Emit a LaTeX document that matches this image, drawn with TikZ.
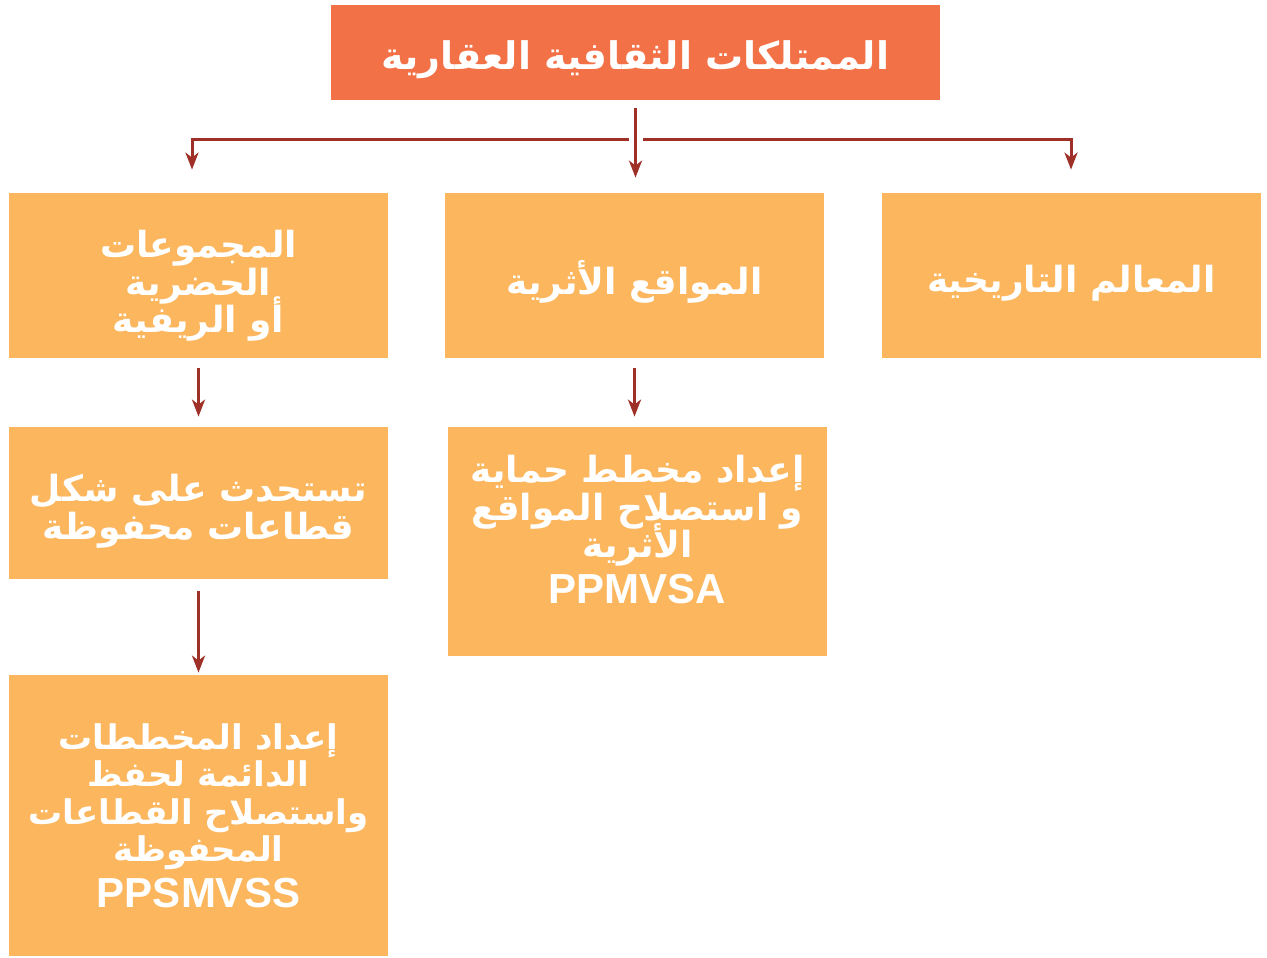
\documentclass[tikz,border=0pt]{standalone}
\usepackage{fontspec}
\newfontfamily\arabicfont[Script=Arabic]{DejaVu Sans}
\newfontfamily\latinfont{Liberation Sans}
\TeXXeTstate=1
\lineskiplimit=-100pt
\usetikzlibrary{arrows.meta}
\definecolor{topcol}{RGB}{243,113,70}
\definecolor{boxcol}{RGB}{251,182,94}
\definecolor{linkcol}{RGB}{158,48,40}
\newcommand{\rl}[1]{\beginR #1\endR}
\newcommand{\lift}[1]{\rule{0pt}{#1}}
\newcommand{\code}[1]{{\latinfont\bfseries\fontsize{21}{24}\selectfont #1}}

\begin{document}
\begin{tikzpicture}[x=0.5pt,y=-0.5pt,
  box/.style={fill=boxcol, text=white, align=center, inner sep=0pt, minimum width=189.5pt,
    font=\arabicfont\bfseries\fontsize{18}{18.75}\selectfont},
  link/.style={draw=linkcol, line width=1.5pt, -{Stealth[length=8.5pt,width=6.5pt,inset=2.5pt]}}]
  \useasboundingbox (0,0) rectangle (1267,957);
  % boxes
  \node[box, fill=topcol, minimum width=304.5pt, minimum height=47.5pt,
    font=\arabicfont\bfseries\fontsize{19}{19}\selectfont] (m) at (635.5,52.5)
    {\lift{22pt}\rl{الممتلكات الثقافية العقارية}};
  \node[box, minimum height=82.5pt] (hist) at (1071.5,275.5) {\lift{21pt}\rl{المعالم التاريخية}};
  \node[box, minimum height=82.5pt] (arch) at (634.5,275.5) {\lift{23pt}\rl{المواقع الأثرية}};
  \node[box, minimum height=82.5pt] (urb) at (198.5,275.5)
    {\lift{24pt}\rl{المجموعات}\\\rl{الحضرية}\\\rl{أو الريفية}};
  \node[box, minimum height=76pt] (sect) at (198.5,503)
    {\lift{22pt}\rl{تستحدث على شكل}\\\rl{قطاعات محفوظة}};
  \node[box, minimum height=114.5pt] (ppmvsa) at (637.5,541.5)
    {\rl{إعداد مخطط حماية}\\\rl{و استصلاح المواقع}\\\rl{الأثرية}\\[4pt]
     \code{PPMVSA}\rule[-12pt]{0pt}{12pt}};
  \node[box, minimum height=140.5pt, font=\arabicfont\bfseries\fontsize{17}{18.75}\selectfont]
    (ppsmvss) at (198.5,815.5)
    {\rl{إعداد المخططات}\\\rl{الدائمة لحفظ}\\\rl{واستصلاح القطاعات}\\\rl{المحفوظة}\\[4pt]
     \code{PPSMVSS}};
  % connectors
  \coordinate (jl) at (192,140);
  \coordinate (jr) at (1071,140);
  \draw[link, {Stealth[length=8.5pt,width=6.5pt,inset=2.5pt]}-{Stealth[length=8.5pt,width=6.5pt,inset=2.5pt]},
    shorten <=11.5pt, shorten >=11.5pt]
    (jl |- urb.north) -- (jl) -- (jr) -- (jr |- hist.north);
  \draw[link, preaction={draw=white, line width=7pt, arrows=-}, shorten <=4pt, shorten >=7.5pt]
    (m.south) -- (m.south |- arch.north);
  \draw[link, shorten <=5pt, shorten >=5pt] (urb.south) -- (sect.north);
  \draw[link, shorten <=5pt, shorten >=5pt] (arch.south) -- (arch.south |- ppmvsa.north);
  \draw[link, shorten <=6pt, shorten >=1pt] (sect.south) -- (ppsmvss.north);
\end{tikzpicture}
\end{document}
